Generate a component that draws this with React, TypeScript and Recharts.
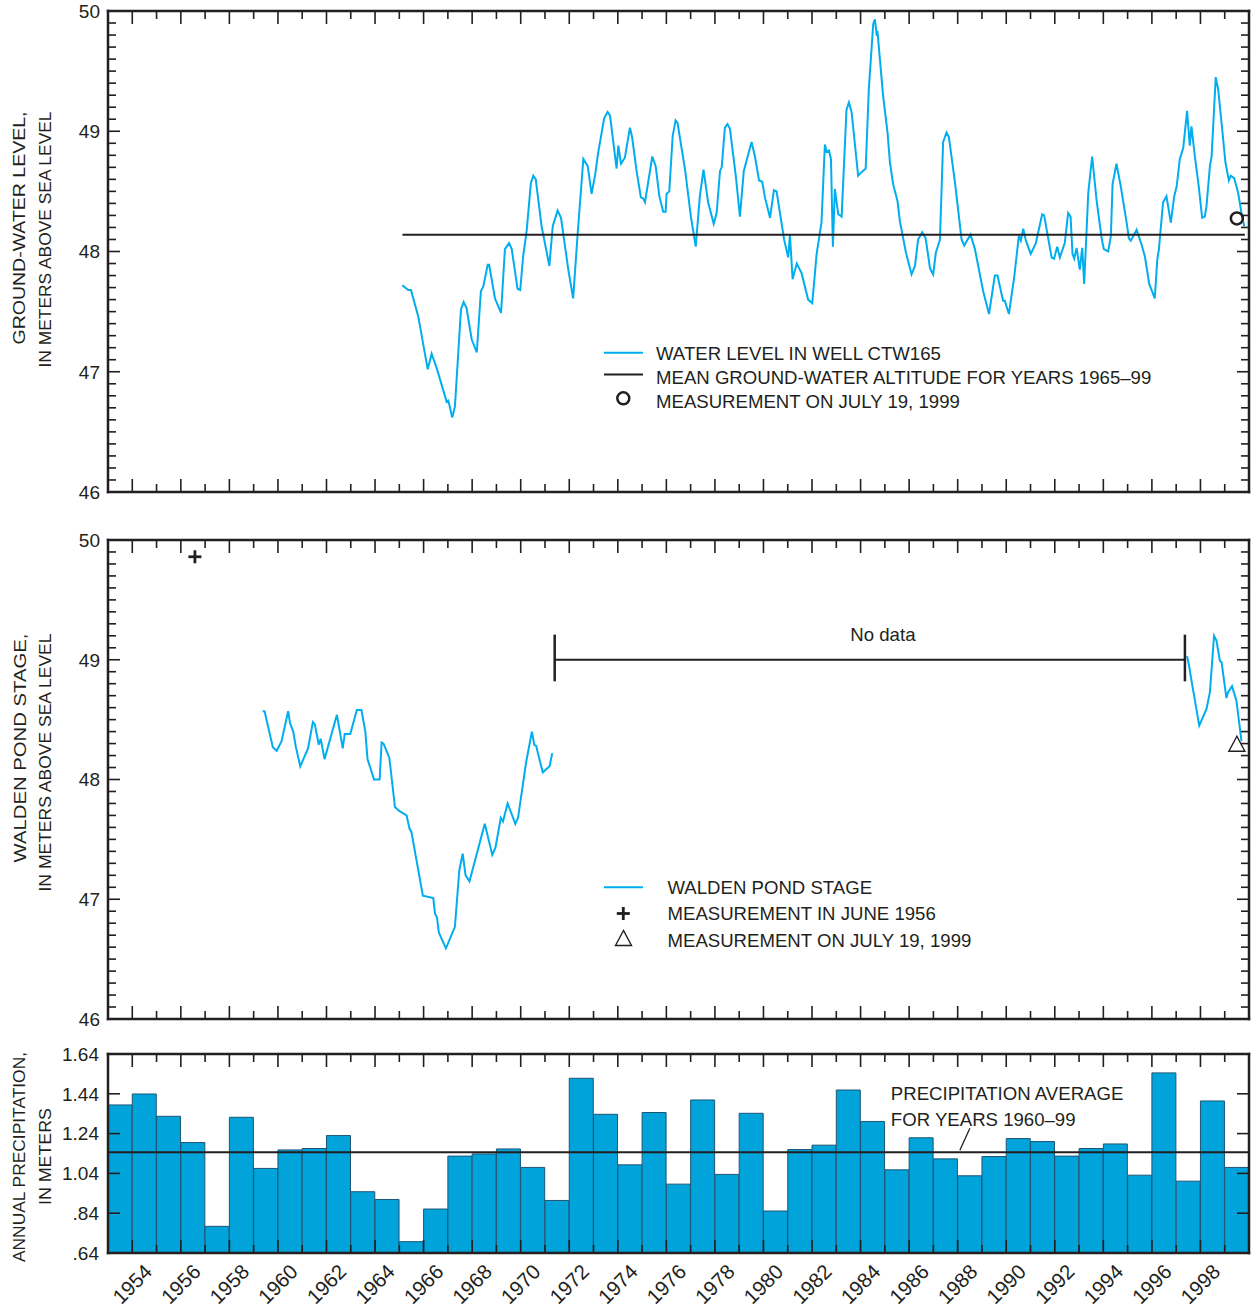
import React from 'react';
import {
  ComposedChart,
  Line,
  Bar,
  XAxis,
  YAxis,
  Scatter,
  ReferenceLine,
  ReferenceDot,
  Legend,
} from 'recharts';

// ---------- styling constants ----------
const INK = '#231f20';
const CYAN = '#00aeef';
const BAR_FILL = '#00a3da';
const BAR_EDGE = '#1d5675';
const FONT = '"Liberation Sans", Arial, Helvetica, sans-serif';
const LEGEND_FS = 18.6;

const CHART_W = 1251;
const LEFT_W = 108;
const RIGHT_W = 2;
const PLOT_W = CHART_W - LEFT_W - RIGHT_W;

// ---------- axes ----------
const YEAR_DOMAIN: [number, number] = [1953, 2000];
const HALF_YEAR_PX = PLOT_W / (YEAR_DOMAIN[1] - YEAR_DOMAIN[0]) / 2;
const YEAR_TICKS = [
  1953, 1954, 1955, 1956, 1957, 1958, 1959, 1960, 1961, 1962, 1963, 1964, 1965, 1966, 1967, 1968,
  1969, 1970, 1971, 1972, 1973, 1974, 1975, 1976, 1977, 1978, 1979, 1980, 1981, 1982, 1983, 1984,
  1985, 1986, 1987, 1988, 1989, 1990, 1991, 1992, 1993, 1994, 1995, 1996, 1997, 1998, 1999, 2000,
];
const YEAR_LABELS = [
  1954, 1956, 1958, 1960, 1962, 1964, 1966, 1968, 1970, 1972, 1974, 1976, 1978, 1980, 1982, 1984,
  1986, 1988, 1990, 1992, 1994, 1996, 1998,
];
const LEVEL_DOMAIN: [number, number] = [46, 50];
const LEVEL_TICKS = [
  46, 46.1, 46.2, 46.3, 46.4, 46.5, 46.6, 46.7, 46.8, 46.9,
  47, 47.1, 47.2, 47.3, 47.4, 47.5, 47.6, 47.7, 47.8, 47.9,
  48, 48.1, 48.2, 48.3, 48.4, 48.5, 48.6, 48.7, 48.8, 48.9,
  49, 49.1, 49.2, 49.3, 49.4, 49.5, 49.6, 49.7, 49.8, 49.9, 50,
];
const PRECIP_DOMAIN: [number, number] = [0.64, 1.64];
const PRECIP_TICKS = [0.64, 0.84, 1.04, 1.24, 1.44, 1.64];
const PRECIP_TICK_TEXT = ['.64', '.84', '1.04', '1.24', '1.44', '1.64'];

// ---------- data: ground-water level, well CTW165 [year, meters] ----------
const WELL_LEVEL: [number, number][] = [
  [1965.12, 47.72], [1965.37, 47.68], [1965.48, 47.68], [1965.78, 47.46], [1966.17, 47.02],
  [1966.33, 47.15], [1966.54, 47.03], [1966.95, 46.75], [1967.02, 46.76], [1967.18, 46.62],
  [1967.29, 46.71], [1967.54, 47.52], [1967.65, 47.58], [1967.77, 47.53], [1967.98, 47.27],
  [1968.19, 47.16], [1968.36, 47.67], [1968.46, 47.71], [1968.64, 47.89], [1968.70, 47.89],
  [1968.94, 47.61], [1969.19, 47.49], [1969.35, 48.02], [1969.52, 48.07], [1969.63, 48.02],
  [1969.87, 47.69], [1969.98, 47.68], [1970.10, 47.96], [1970.24, 48.16], [1970.42, 48.57],
  [1970.52, 48.63], [1970.62, 48.60], [1970.86, 48.21], [1971.18, 47.88], [1971.32, 48.21],
  [1971.52, 48.34], [1971.66, 48.28], [1971.96, 47.85], [1972.16, 47.61], [1972.35, 48.16],
  [1972.58, 48.77], [1972.76, 48.71], [1972.92, 48.48], [1973.06, 48.63], [1973.19, 48.82],
  [1973.44, 49.11], [1973.58, 49.16], [1973.68, 49.13], [1973.95, 48.69], [1974.02, 48.88],
  [1974.13, 48.73], [1974.29, 48.78], [1974.50, 49.03], [1974.59, 48.95], [1974.78, 48.66],
  [1974.95, 48.45], [1975.05, 48.44], [1975.12, 48.41], [1975.42, 48.79], [1975.56, 48.71],
  [1975.71, 48.46], [1975.87, 48.33], [1975.97, 48.33], [1976.01, 48.48], [1976.12, 48.50],
  [1976.26, 48.96], [1976.38, 49.09], [1976.46, 49.07], [1976.77, 48.68], [1977.01, 48.29],
  [1977.21, 48.04], [1977.38, 48.46], [1977.53, 48.68], [1977.72, 48.41], [1977.95, 48.23],
  [1978.07, 48.32], [1978.21, 48.67], [1978.28, 48.70], [1978.41, 49.03], [1978.52, 49.06],
  [1978.62, 49.02], [1978.87, 48.61], [1979.03, 48.29], [1979.19, 48.67], [1979.51, 48.91],
  [1979.65, 48.79], [1979.82, 48.59], [1979.95, 48.58], [1980.06, 48.45], [1980.27, 48.28],
  [1980.43, 48.51], [1980.54, 48.50], [1980.85, 48.10], [1981.02, 47.95], [1981.09, 48.14],
  [1981.20, 47.77], [1981.37, 47.90], [1981.57, 47.82], [1981.84, 47.60], [1982.01, 47.57],
  [1982.19, 47.98], [1982.39, 48.24], [1982.53, 48.89], [1982.60, 48.83], [1982.70, 48.84],
  [1982.78, 48.77], [1982.86, 48.04], [1982.94, 48.52], [1983.08, 48.31], [1983.22, 48.29],
  [1983.42, 49.18], [1983.52, 49.24], [1983.63, 49.16], [1983.90, 48.63], [1984.04, 48.66],
  [1984.21, 48.69], [1984.34, 49.35], [1984.52, 49.89], [1984.59, 49.93], [1984.66, 49.81],
  [1984.70, 49.82], [1984.93, 49.29], [1985.11, 48.99], [1985.21, 48.74], [1985.34, 48.56],
  [1985.52, 48.42], [1985.62, 48.25], [1985.87, 47.99], [1986.10, 47.81], [1986.24, 47.88],
  [1986.37, 48.10], [1986.54, 48.16], [1986.68, 48.11], [1986.86, 47.86], [1986.99, 47.81],
  [1987.10, 47.99], [1987.27, 48.10], [1987.40, 48.91], [1987.54, 48.99], [1987.64, 48.95],
  [1987.89, 48.57], [1988.16, 48.10], [1988.27, 48.05], [1988.41, 48.10], [1988.53, 48.14],
  [1988.71, 48.02], [1989.05, 47.67], [1989.29, 47.48], [1989.53, 47.80], [1989.64, 47.80],
  [1989.87, 47.59], [1989.94, 47.59], [1990.11, 47.48], [1990.33, 47.79], [1990.52, 48.13],
  [1990.60, 48.09], [1990.70, 48.19], [1990.81, 48.09], [1991.01, 47.98], [1991.22, 48.07],
  [1991.48, 48.31], [1991.56, 48.30], [1991.87, 47.95], [1991.97, 47.94], [1992.10, 48.04],
  [1992.21, 47.95], [1992.41, 48.07], [1992.55, 48.32], [1992.65, 48.29], [1992.73, 47.98],
  [1992.80, 47.94], [1992.90, 48.03], [1993.03, 47.85], [1993.13, 48.03], [1993.21, 47.73],
  [1993.38, 48.49], [1993.54, 48.79], [1993.72, 48.43], [1993.93, 48.11], [1994.02, 48.02],
  [1994.20, 48.00], [1994.31, 48.13], [1994.38, 48.56], [1994.54, 48.73], [1994.72, 48.54],
  [1994.96, 48.24], [1995.05, 48.11], [1995.13, 48.09], [1995.37, 48.18], [1995.57, 48.06],
  [1995.71, 47.96], [1995.89, 47.73], [1996.12, 47.61], [1996.22, 47.93], [1996.29, 48.02],
  [1996.46, 48.41], [1996.60, 48.46], [1996.78, 48.24], [1996.92, 48.46], [1997.02, 48.54],
  [1997.15, 48.77], [1997.29, 48.86], [1997.45, 49.17], [1997.56, 48.88], [1997.63, 49.04],
  [1997.77, 48.79], [1997.93, 48.54], [1998.07, 48.28], [1998.18, 48.29], [1998.25, 48.38],
  [1998.39, 48.71], [1998.46, 48.79], [1998.63, 49.45], [1998.73, 49.35], [1998.87, 49.07],
  [1999.03, 48.74], [1999.17, 48.59], [1999.25, 48.63], [1999.39, 48.61], [1999.55, 48.49],
  [1999.69, 48.32], [1999.80, 48.21],
];
const WELL_MEAN_1965_99 = 48.14;
const WELL_MEAN_SPAN: [number, number] = [1965.13, 1999.83];
const WELL_JULY_19_1999 = [{ x: 1999.5, y: 48.275 }];

// ---------- data: Walden Pond stage [year, meters] ----------
const POND_1959_1971: [number, number][] = [
  [1959.37, 48.57], [1959.45, 48.57], [1959.79, 48.27], [1959.95, 48.24], [1960.15, 48.32],
  [1960.42, 48.57], [1960.50, 48.47], [1960.63, 48.40], [1960.74, 48.27], [1960.92, 48.11],
  [1961.24, 48.26], [1961.44, 48.48], [1961.52, 48.46], [1961.68, 48.29], [1961.76, 48.34],
  [1961.92, 48.17], [1962.43, 48.54], [1962.67, 48.26], [1962.75, 48.38], [1962.98, 48.38],
  [1963.25, 48.58], [1963.44, 48.58], [1963.60, 48.40], [1963.69, 48.17], [1963.96, 48.00],
  [1964.19, 48.00], [1964.27, 48.31], [1964.35, 48.30], [1964.59, 48.18], [1964.82, 47.77],
  [1964.98, 47.74], [1965.30, 47.70], [1965.42, 47.59], [1965.50, 47.56], [1965.97, 47.03],
  [1966.40, 47.01], [1966.47, 46.88], [1966.55, 46.85], [1966.63, 46.72], [1966.92, 46.59],
  [1967.29, 46.77], [1967.47, 47.24], [1967.61, 47.38], [1967.73, 47.20], [1967.89, 47.15],
  [1968.52, 47.63], [1968.83, 47.37], [1968.96, 47.43], [1969.18, 47.68], [1969.27, 47.65],
  [1969.46, 47.80], [1969.78, 47.63], [1969.89, 47.68], [1970.22, 48.14], [1970.46, 48.40],
  [1970.56, 48.29], [1970.64, 48.28], [1970.72, 48.21], [1970.91, 48.06], [1971.19, 48.11],
  [1971.30, 48.22],
];
const POND_1997_1999: [number, number][] = [
  [1997.45, 49.03], [1997.53, 48.95], [1997.67, 48.78], [1997.95, 48.45], [1998.25, 48.59],
  [1998.39, 48.73], [1998.56, 49.20], [1998.66, 49.16], [1998.80, 48.99], [1998.87, 48.98],
  [1999.07, 48.68], [1999.14, 48.73], [1999.30, 48.78], [1999.48, 48.66], [1999.69, 48.32],
];
const POND_JUNE_1956 = [{ x: 1956.58, y: 49.86 }];
const POND_JULY_19_1999 = [{ x: 1999.5, y: 48.29 }];
const NO_DATA_SPAN: [number, number] = [1971.4, 1997.36];
const NO_DATA_LEVEL = 49.0;
const NO_DATA_CAP: [number, number] = [48.82, 49.21];
const NO_DATA_NOTE = [{ x: 1984.92, y: 49.21, text: 'No data' }];

// ---------- data: annual precipitation (meters) ----------
const PRECIP_YEARS = [
  1953, 1954, 1955, 1956, 1957, 1958, 1959, 1960, 1961, 1962, 1963, 1964, 1965, 1966, 1967, 1968,
  1969, 1970, 1971, 1972, 1973, 1974, 1975, 1976, 1977, 1978, 1979, 1980, 1981, 1982, 1983, 1984,
  1985, 1986, 1987, 1988, 1989, 1990, 1991, 1992, 1993, 1994, 1995, 1996, 1997, 1998, 1999,
];
const PRECIP_METERS = [
  1.384, 1.439, 1.327, 1.195, 0.774, 1.322, 1.065, 1.158, 1.165, 1.230, 0.948, 0.909, 0.697, 0.861,
  1.127, 1.138, 1.163, 1.070, 0.904, 1.518, 1.337, 1.083, 1.346, 0.986, 1.409, 1.035, 1.342, 0.851,
  1.160, 1.182, 1.459, 1.301, 1.058, 1.219, 1.113, 1.028, 1.125, 1.215, 1.200, 1.127, 1.165, 1.188,
  1.031, 1.545, 1.001, 1.404, 1.070,
];
const PRECIP_AVG_1960_99 = 1.146;
const PRECIP_NOTE = [{ x: 1988.09, y: 1.146, lines: ['PRECIPITATION AVERAGE', 'FOR YEARS 1960\u201399'] }];

// ---------- derived tables ----------
const wellData = WELL_LEVEL.map(([x, y]) => ({ x, y }));
const pondEarly = POND_1959_1971.map(([x, y]) => ({ x, y }));
const pondLate = POND_1997_1999.map(([x, y]) => ({ x, y }));
const precipData = PRECIP_YEARS.map((yr, i) => ({ x: yr + 0.5, y: PRECIP_METERS[i] }));

// ---------- tick renderers ----------
function yearTick(side: 'top' | 'bottom', showLabels: boolean) {
  return (p: any) => {
    const v = Number(p.payload?.value);
    const long = Math.round(v) % 2 === 0;
    const len = long ? 13 : 8;
    const dir = side === 'top' ? 1 : -1;
    const showLabel = showLabels && YEAR_LABELS.includes(v);
    return (
      <g>
        <line x1={p.x} x2={p.x} y1={p.y} y2={p.y + dir * len} stroke={INK} strokeWidth={1.6} />
        {showLabel && (
          <text
            transform={`translate(${p.x + HALF_YEAR_PX + 9},${p.y + 20}) rotate(-45)`}
            textAnchor="end"
            fontSize={20.5}
            fill={INK}
            fontFamily={FONT}
          >
            {v}
          </text>
        )}
      </g>
    );
  };
}

function levelTick(side: 'left' | 'right', labelled: boolean) {
  return (p: any) => {
    const v = Number(p.payload?.value);
    const major = Math.abs(v - Math.round(v)) < 1e-6;
    const len = major ? 12 : 8;
    const dir = side === 'left' ? 1 : -1;
    return (
      <g>
        <line x1={p.x} x2={p.x + dir * len} y1={p.y} y2={p.y} stroke={INK} strokeWidth={1.6} />
        {labelled && major && (
          <text x={p.x - 8} y={p.y} dy="0.36em" textAnchor="end" fontSize={19} fill={INK} fontFamily={FONT}>
            {Math.round(v)}
          </text>
        )}
      </g>
    );
  };
}

function precipTick(side: 'left' | 'right', labelled: boolean) {
  return (p: any) => {
    const v = Number(p.payload?.value);
    const idx = PRECIP_TICKS.findIndex((t) => Math.abs(t - v) < 1e-6);
    const dir = side === 'left' ? 1 : -1;
    return (
      <g>
        <line x1={p.x} x2={p.x + dir * 12} y1={p.y} y2={p.y} stroke={INK} strokeWidth={1.6} />
        {labelled && idx >= 0 && (
          <text x={p.x - 9} y={p.y} dy="0.36em" textAnchor="end" fontSize={19} fill={INK} fontFamily={FONT}>
            {PRECIP_TICK_TEXT[idx]}
          </text>
        )}
      </g>
    );
  };
}

type TitleLine = { text: string; x: number; y: number; len: number };
function axisTitle(lines: TitleLine[]) {
  return () => (
    <g>
      {lines.map((l) => (
        <text
          key={l.text}
          transform={`translate(${l.x},${l.y}) rotate(-90)`}
          textAnchor="middle"
          dy="0.35em"
          fontSize={17}
          fill={INK}
          fontFamily={FONT}
          textLength={l.len}
          lengthAdjust="spacingAndGlyphs"
        >
          {l.text}
        </text>
      ))}
    </g>
  );
}

const frameLine = { stroke: INK, strokeWidth: 2.5, strokeLinecap: 'square' as const };

// ---------- marker shapes ----------
const OpenCircle = (p: any) => (
  <circle cx={p.cx} cy={p.cy} r={6} fill="none" stroke={INK} strokeWidth={2.5} />
);
const PlusMark = (p: any) => (
  <g stroke={INK} strokeWidth={2.8}>
    <line x1={p.cx - 6.5} x2={p.cx + 6.5} y1={p.cy} y2={p.cy} />
    <line x1={p.cx} x2={p.cx} y1={p.cy - 6.5} y2={p.cy + 6.5} />
  </g>
);
const OpenTriangle = (p: any) => (
  <polygon
    points={`${p.cx},${p.cy - 8.5} ${p.cx - 8},${p.cy + 6.5} ${p.cx + 8},${p.cy + 6.5}`}
    fill="none"
    stroke={INK}
    strokeWidth={1.4}
  />
);

// ---------- legends ----------
const legendText = (x: number, y: number, s: string) => (
  <text x={x} y={y} dy="0.35em" fontSize={LEGEND_FS} fill={INK} fontFamily={FONT}>
    {s}
  </text>
);

const WellLegend = () => (
  <svg width={580} height={75} style={{ display: 'block', overflow: 'visible' }}>
    <line x1={4} x2={43} y1={12.7} y2={12.7} stroke={CYAN} strokeWidth={2} />
    {legendText(56, 13.3, 'WATER LEVEL IN WELL CTW165')}
    <line x1={4} x2={43} y1={34.5} y2={34.5} stroke={INK} strokeWidth={2} />
    {legendText(56, 37, 'MEAN GROUND-WATER ALTITUDE FOR YEARS 1965\u201399')}
    <OpenCircle cx={23.3} cy={58.3} />
    {legendText(56, 61, 'MEASUREMENT ON JULY 19, 1999')}
  </svg>
);

const PondLegend = () => (
  <svg width={420} height={80} style={{ display: 'block', overflow: 'visible' }}>
    <line x1={4} x2={43} y1={17.3} y2={17.3} stroke={CYAN} strokeWidth={2} />
    {legendText(67.5, 17.3, 'WALDEN POND STAGE')}
    <PlusMark cx={23.3} cy={43.5} />
    {legendText(67.5, 43.7, 'MEASUREMENT IN JUNE 1956')}
    <OpenTriangle cx={23.5} cy={69} />
    {legendText(67.5, 70, 'MEASUREMENT ON JULY 19, 1999')}
  </svg>
);

// ---------- common axes ----------
function yearAxes(topH: number, bottomH: number, labels: boolean) {
  return [
    <XAxis
      key="xb"
      xAxisId="b"
      dataKey="x"
      type="number"
      orientation="bottom"
      height={bottomH}
      domain={YEAR_DOMAIN}
      allowDataOverflow
      ticks={YEAR_TICKS}
      interval={0}
      tickSize={0}
      tickMargin={0}
      tickLine={false}
      axisLine={frameLine}
      tick={yearTick('bottom', labels)}
    />,
    <XAxis
      key="xt"
      xAxisId="t"
      dataKey="x"
      type="number"
      orientation="top"
      height={topH}
      domain={YEAR_DOMAIN}
      allowDataOverflow
      ticks={YEAR_TICKS}
      interval={0}
      tickSize={0}
      tickMargin={0}
      tickLine={false}
      axisLine={frameLine}
      tick={yearTick('top', false)}
    />,
  ];
}

function levelAxes(title: TitleLine[]) {
  return [
    <YAxis
      key="yl"
      yAxisId="l"
      type="number"
      orientation="left"
      width={LEFT_W}
      domain={LEVEL_DOMAIN}
      allowDataOverflow
      ticks={LEVEL_TICKS}
      interval={0}
      tickSize={0}
      tickMargin={0}
      tickLine={false}
      axisLine={frameLine}
      tick={levelTick('left', true)}
      label={axisTitle(title)}
    />,
    <YAxis
      key="yr"
      yAxisId="r"
      type="number"
      orientation="right"
      width={RIGHT_W}
      domain={LEVEL_DOMAIN}
      allowDataOverflow
      ticks={LEVEL_TICKS}
      interval={0}
      tickSize={0}
      tickMargin={0}
      tickLine={false}
      axisLine={frameLine}
      tick={levelTick('right', false)}
    />,
  ];
}

const ZERO_MARGIN = { top: 0, right: 0, bottom: 0, left: 0 };

function WellChart() {
  return (
    <ComposedChart width={CHART_W} height={520} margin={ZERO_MARGIN}>
      {yearAxes(11, 28, false)}
      {levelAxes([
        { text: 'GROUND-WATER LEVEL,', x: 19, y: 228, len: 233 },
        { text: 'IN METERS ABOVE SEA LEVEL', x: 45, y: 239.5, len: 256 },
      ])}
      <Line
        xAxisId="b"
        yAxisId="l"
        data={wellData}
        dataKey="y"
        type="linear"
        stroke={CYAN}
        strokeWidth={2}
        dot={false}
        activeDot={false}
        isAnimationActive={false}
      />
      <ReferenceLine
        xAxisId="b"
        yAxisId="l"
        segment={[
          { x: WELL_MEAN_SPAN[0], y: WELL_MEAN_1965_99 },
          { x: WELL_MEAN_SPAN[1], y: WELL_MEAN_1965_99 },
        ]}
        stroke={INK}
        strokeWidth={2}
      />
      <Scatter
        xAxisId="b"
        yAxisId="l"
        data={WELL_JULY_19_1999}
        dataKey="y"
        shape={OpenCircle}
        isAnimationActive={false}
      />
      <Legend
        layout="vertical"
        align="center"
        verticalAlign="middle"
        content={WellLegend}
        wrapperStyle={{ left: 600, top: 340, width: 580, height: 75 }}
      />
    </ComposedChart>
  );
}

function PondChart() {
  return (
    <ComposedChart width={CHART_W} height={520} margin={ZERO_MARGIN}>
      {yearAxes(20, 21, false)}
      {levelAxes([
        { text: 'WALDEN POND STAGE,', x: 20, y: 228, len: 229 },
        { text: 'IN METERS ABOVE SEA LEVEL', x: 45, y: 242.5, len: 258 },
      ])}
      <Line
        xAxisId="b"
        yAxisId="l"
        data={pondEarly}
        dataKey="y"
        type="linear"
        stroke={CYAN}
        strokeWidth={2}
        dot={false}
        activeDot={false}
        isAnimationActive={false}
      />
      <Line
        xAxisId="b"
        yAxisId="l"
        data={pondLate}
        dataKey="y"
        type="linear"
        stroke={CYAN}
        strokeWidth={2}
        dot={false}
        activeDot={false}
        isAnimationActive={false}
      />
      <ReferenceLine
        xAxisId="b"
        yAxisId="l"
        segment={[
          { x: NO_DATA_SPAN[0], y: NO_DATA_LEVEL },
          { x: NO_DATA_SPAN[1], y: NO_DATA_LEVEL },
        ]}
        stroke={INK}
        strokeWidth={2.2}
      />
      <ReferenceLine
        xAxisId="b"
        yAxisId="l"
        segment={[
          { x: NO_DATA_SPAN[0], y: NO_DATA_CAP[0] },
          { x: NO_DATA_SPAN[0], y: NO_DATA_CAP[1] },
        ]}
        stroke={INK}
        strokeWidth={2.5}
      />
      <ReferenceLine
        xAxisId="b"
        yAxisId="l"
        segment={[
          { x: NO_DATA_SPAN[1], y: NO_DATA_CAP[0] },
          { x: NO_DATA_SPAN[1], y: NO_DATA_CAP[1] },
        ]}
        stroke={INK}
        strokeWidth={2.5}
      />
      {NO_DATA_NOTE.map((n) => (
        <ReferenceDot
          key={n.text}
          xAxisId="b"
          yAxisId="l"
          x={n.x}
          y={n.y}
          shape={(p: any) => (
            <text x={p.cx} y={p.cy} dy="0.35em" textAnchor="middle" fontSize={LEGEND_FS} fill={INK} fontFamily={FONT}>
              {n.text}
            </text>
          )}
        />
      ))}
      <Scatter xAxisId="b" yAxisId="l" data={POND_JUNE_1956} dataKey="y" shape={PlusMark} isAnimationActive={false} />
      <Scatter
        xAxisId="b"
        yAxisId="l"
        data={POND_JULY_19_1999}
        dataKey="y"
        shape={OpenTriangle}
        isAnimationActive={false}
      />
      <Legend
        layout="vertical"
        align="center"
        verticalAlign="middle"
        content={PondLegend}
        wrapperStyle={{ left: 600, top: 350, width: 420, height: 80 }}
      />
    </ComposedChart>
  );
}

function PrecipChart() {
  return (
    <ComposedChart
      width={CHART_W}
      height={270}
      margin={ZERO_MARGIN}
      data={precipData}
      barCategoryGap={0}
      barGap={0}
    >
      <Bar
        xAxisId="b"
        yAxisId="l"
        dataKey="y"
        fill={BAR_FILL}
        stroke={BAR_EDGE}
        strokeWidth={1}
        isAnimationActive={false}
      />
      {yearAxes(14, 57, true)}
      <YAxis
        yAxisId="l"
        type="number"
        orientation="left"
        width={LEFT_W}
        domain={PRECIP_DOMAIN}
        allowDataOverflow
        ticks={PRECIP_TICKS}
        interval={0}
        tickSize={0}
        tickMargin={0}
        tickLine={false}
        axisLine={frameLine}
        tick={precipTick('left', true)}
        label={axisTitle([
          { text: 'ANNUAL PRECIPITATION,', x: 19, y: 117, len: 210 },
          { text: 'IN METERS', x: 45, y: 116.5, len: 97 },
        ])}
      />
      <YAxis
        yAxisId="r"
        type="number"
        orientation="right"
        width={RIGHT_W}
        domain={PRECIP_DOMAIN}
        allowDataOverflow
        ticks={PRECIP_TICKS}
        interval={0}
        tickSize={0}
        tickMargin={0}
        tickLine={false}
        axisLine={frameLine}
        tick={precipTick('right', false)}
      />
      <ReferenceLine xAxisId="b" yAxisId="l" y={PRECIP_AVG_1960_99} stroke={INK} strokeWidth={2} />
      {PRECIP_NOTE.map((n) => (
        <ReferenceDot
          key={n.lines[0]}
          xAxisId="b"
          yAxisId="l"
          x={n.x}
          y={n.y}
          shape={(p: any) => (
            <g>
              <line x1={p.cx} y1={p.cy - 2} x2={p.cx + 10} y2={p.cy - 24} stroke={INK} strokeWidth={1.3} />
              <text x={p.cx - 69} y={p.cy - 52.5} fontSize={LEGEND_FS} fill={INK} fontFamily={FONT}>
                {n.lines[0]}
              </text>
              <text x={p.cx - 69} y={p.cy - 26.5} fontSize={LEGEND_FS} fill={INK} fontFamily={FONT}>
                {n.lines[1]}
              </text>
            </g>
          )}
        />
      ))}
    </ComposedChart>
  );
}

export default function App() {
  return (
    <div
      style={{
        position: 'absolute',
        left: 0,
        top: 0,
        width: CHART_W,
        height: 1310,
        background: '#ffffff',
        fontFamily: FONT,
        color: INK,
      }}
    >
      <div style={{ position: 'absolute', left: 0, top: 0 }}>
        <WellChart />
      </div>
      <div style={{ position: 'absolute', left: 0, top: 520 }}>
        <PondChart />
      </div>
      <div style={{ position: 'absolute', left: 0, top: 1040 }}>
        <PrecipChart />
      </div>
    </div>
  );
}
